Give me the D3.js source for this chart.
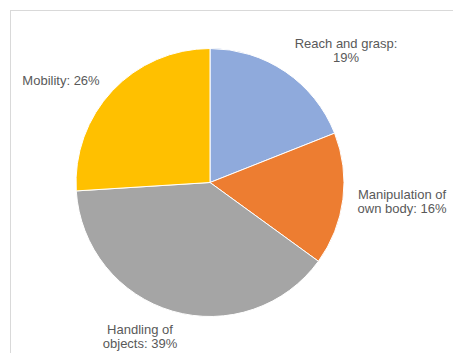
<!DOCTYPE html>
<html>
<head>
<meta charset="utf-8">
<script src="https://cdn.jsdelivr.net/npm/d3@7"></script>
<style>
  html, body { margin: 0; padding: 0; background: #fff; }
  svg { display: block; }
  text { font-family: "Liberation Sans", Arial, sans-serif; }
</style>
</head>
<body>
<svg id="chart" width="453" height="353"></svg>
<script>
// Share of activity categories (percent)
const categories = ["Reach and grasp", "Manipulation of own body", "Handling of objects", "Mobility"];
const values = [19, 16, 39, 26];
const colors = ["#8FAADC", "#ED7D31", "#A5A5A5", "#FFC000"];

// Label placement: centre x, first baseline y, wrap width
const labelLayout = [
  { x: 346, y: 48, wrap: 110 },
  { x: 402, y: 199, wrap: 95 },
  { x: 140, y: 334, wrap: 80 },
  { x: 61, y: 85, wrap: 130 }
];

const svg = d3.select("#chart");
const W = 453, H = 353;

// Chart area frame
svg.append("rect")
  .attr("x", 10.5).attr("y", 10.5)
  .attr("width", W + 20).attr("height", H + 20)
  .attr("fill", "#fff")
  .attr("stroke", "#d9d9d9")
  .attr("stroke-width", 1);

const cx = 210, cy = 182.5, r = 134;

const data = categories.map((c, i) => ({ name: c, value: values[i], color: colors[i], layout: labelLayout[i] }));

const pie = d3.pie().value(d => d.value).sort(null);
const arc = d3.arc().innerRadius(0).outerRadius(r);

const g = svg.append("g").attr("transform", `translate(${cx},${cy})`);

g.selectAll("path")
  .data(pie(data))
  .join("path")
  .attr("d", arc)
  .attr("fill", d => d.data.color)
  .attr("stroke", "#fff")
  .attr("stroke-width", 1);

// Data labels, wrapped word by word
const lineHeight = 13.5;
data.forEach(d => {
  const words = `${d.name}: ${d.value}%`.split(" ");
  const t = svg.append("text")
    .attr("x", d.layout.x)
    .attr("y", d.layout.y)
    .attr("text-anchor", "middle")
    .attr("font-size", 13)
    .attr("fill", "#595959");
  let lines = [];
  let line = [];
  const probe = t.append("tspan");
  words.forEach(w => {
    const trial = line.concat(w).join(" ");
    probe.text(trial);
    if (line.length && probe.node().getComputedTextLength() > d.layout.wrap) {
      lines.push(line.join(" "));
      line = [w];
    } else {
      line.push(w);
    }
  });
  lines.push(line.join(" "));
  probe.remove();
  lines.forEach((l, i) => {
    t.append("tspan")
      .attr("x", d.layout.x)
      .attr("y", d.layout.y + i * lineHeight)
      .text(l);
  });
});
</script>
</body>
</html>
